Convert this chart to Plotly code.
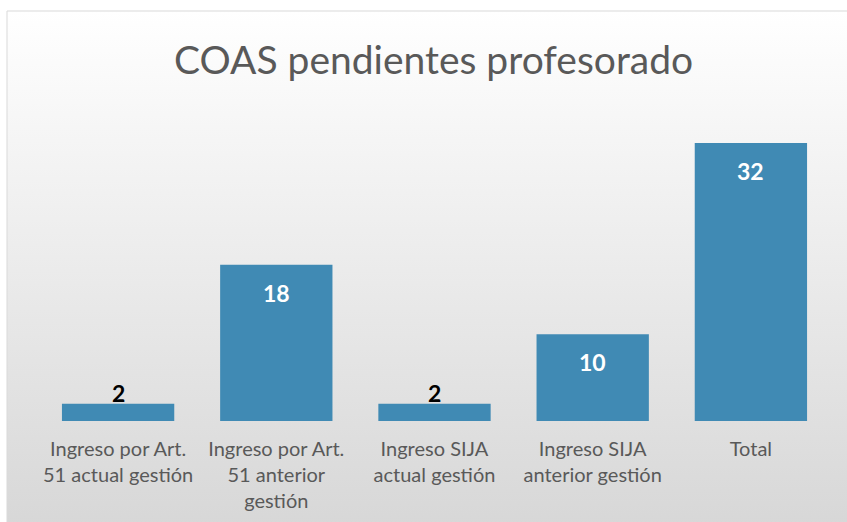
import plotly.graph_objects as go

W, H = 847, 522

categories = ["Ingreso por Art. 51 actual gestión",
              "Ingreso por Art. 51 anterior gestión",
              "Ingreso SIJA actual gestión",
              "Ingreso SIJA anterior gestión",
              "Total"]
tick_labels = ["Ingreso por Art.<br>51 actual gestión",
               "Ingreso por Art.<br>51 anterior<br>gestión",
               "Ingreso SIJA<br>actual gestión",
               "Ingreso SIJA<br>anterior gestión",
               "Total"]
values = [2, 18, 2, 10, 32]
title_text = "COAS pendientes profesorado"

BAR = "#408AB4"
TXT = "#595959"
FONT = "Lato"

fig = go.Figure()

# background panel with vertical gradient (pixel-space axes x/y)
bx0, by0 = 7, 11
fig.add_trace(go.Scatter(
    x=[bx0, W + 20, W + 20, bx0, bx0],
    y=[H - by0, H - by0, -20, -20, H - by0],
    mode="lines", fill="toself",
    line=dict(color="#d9d9d9", width=1),
    fillgradient=dict(type="vertical",
                      colorscale=[[0, "#d6d6d6"], [1, "#ffffff"]]),
    hoverinfo="skip", showlegend=False,
    xaxis="x", yaxis="y"))

fig.add_trace(go.Bar(
    x=categories, y=values, marker=dict(color=BAR, line=dict(width=0)),
    width=0.71, xaxis="x2", yaxis="y2", showlegend=False,
    hoverinfo="skip"))

annotations = []
for c, v in zip(categories, values):
    if v >= 5:
        annotations.append(dict(x=c, y=v, xref="x2", yref="y2", text=str(v),
                                showarrow=False, yanchor="middle", yshift=-28,
                                font=dict(family=FONT, size=23, color="white",
                                          weight="bold")))
    else:
        annotations.append(dict(x=c, y=v, xref="x2", yref="y2", text=str(v),
                                showarrow=False, yanchor="bottom", yshift=-5,
                                font=dict(family=FONT, size=23, color="black",
                                          weight="bold")))
annotations.append(dict(x=434 / W, y=1 - 59 / H, xref="paper", yref="paper",
                        text=title_text, showarrow=False, xanchor="center",
                        yanchor="middle",
                        font=dict(family=FONT, size=39, color=TXT)))

px0, px1 = 39, 830
py_bot, py_top = 421, 117

fig.update_layout(
    width=W, height=H, margin=dict(l=0, r=0, t=0, b=0),
    paper_bgcolor="white", plot_bgcolor="rgba(0,0,0,0)",
    bargap=0.29,
    xaxis=dict(domain=[0, 1], range=[0, W], visible=False, fixedrange=True),
    yaxis=dict(domain=[0, 1], range=[0, H], visible=False, fixedrange=True),
    xaxis2=dict(domain=[px0 / W, px1 / W], anchor="y2",
                tickvals=categories, ticktext=tick_labels,
                showgrid=False, zeroline=False, showline=False, ticks="",
                ticklabelstandoff=14,
                tickfont=dict(family=FONT, size=20, color=TXT)),
    yaxis2=dict(domain=[1 - py_bot / H, 1 - py_top / H], anchor="x2",
                range=[0, 35], visible=False),
    annotations=annotations,
)

fig.write_html("out.html",
               config={"displayModeBar": False, "staticPlot": True},
               post_script="document.body.style.margin='0';"
                           "document.body.style.overflow='hidden';")
